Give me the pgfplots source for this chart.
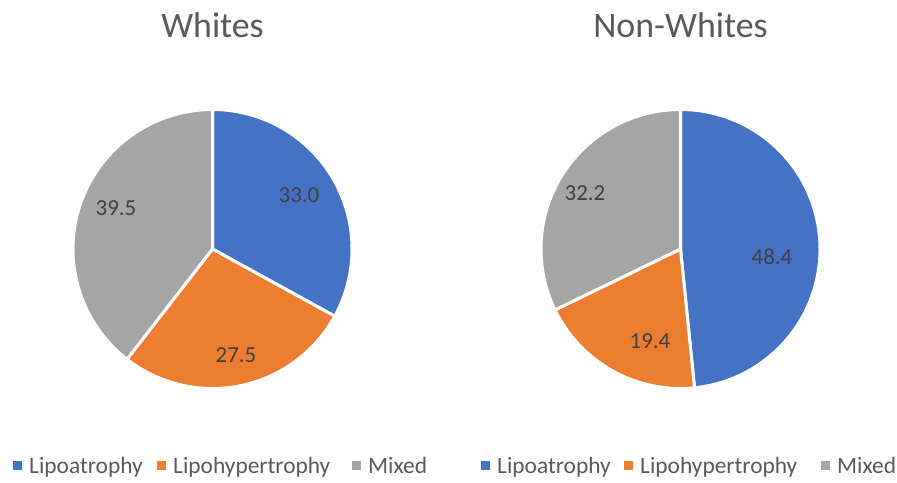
\documentclass[border=0pt]{standalone}
\usepackage{pgfplots}
\pgfplotsset{compat=1.18}
\usepackage{fontspec}
\setmainfont{Carlito}
\definecolor{cblue}{HTML}{4472C4}
\definecolor{corange}{HTML}{ED7D31}
\definecolor{cgray}{HTML}{A5A5A5}
\definecolor{ctitle}{HTML}{595959}
\definecolor{clabel}{HTML}{404040}
% data (percent)
\def\WA{33.0}\def\WB{27.5}\def\WC{39.5}
\def\NA{48.4}\def\NB{19.4}\def\NC{32.2}
\pgfmathsetmacro\WaS{90}
\pgfmathsetmacro\WaE{90-3.6*\WA}
\pgfmathsetmacro\WbE{\WaE-3.6*\WB}
\pgfmathsetmacro\WcE{\WbE-3.6*\WC}
\pgfmathsetmacro\NaE{90-3.6*\NA}
\pgfmathsetmacro\NbE{\NaE-3.6*\NB}
\pgfmathsetmacro\NcE{\NbE-3.6*\NC}
\newcommand{\legsq}[1]{\textcolor{#1}{\rule[3bp]{9bp}{9bp}}\hspace{7bp}}
\begin{document}
\begin{tikzpicture}
\begin{axis}[
  width=897bp, height=483bp, scale only axis,
  xmin=0, xmax=897, ymin=0, ymax=483,
  hide axis, clip=false,
]
\path (rel axis cs:0,0) rectangle (rel axis cs:1,1);
% Left pie: centre (212.5,234), R=139.5
\def\cx{212.5}\def\cy{234}\def\R{139.5}
\addplot[fill=cblue, draw=white, line width=3bp, line join=round, domain=\WaE:90, samples=90]
  ({\cx+\R*cos(x)},{\cy+\R*sin(x)}) -- (axis cs:\cx,\cy) -- cycle;
\addplot[fill=corange, draw=white, line width=3bp, line join=round, domain=\WbE:\WaE, samples=90]
  ({\cx+\R*cos(x)},{\cy+\R*sin(x)}) -- (axis cs:\cx,\cy) -- cycle;
\addplot[fill=cgray, draw=white, line width=3bp, line join=round, domain=\WcE:\WbE, samples=90]
  ({\cx+\R*cos(x)},{\cy+\R*sin(x)}) -- (axis cs:\cx,\cy) -- cycle;
% Right pie: centre (680.5,234)
\def\dx{680.5}
\addplot[fill=cblue, draw=white, line width=3bp, line join=round, domain=\NaE:90, samples=90]
  ({\dx+\R*cos(x)},{\cy+\R*sin(x)}) -- (axis cs:\dx,\cy) -- cycle;
\addplot[fill=corange, draw=white, line width=3bp, line join=round, domain=\NbE:\NaE, samples=90]
  ({\dx+\R*cos(x)},{\cy+\R*sin(x)}) -- (axis cs:\dx,\cy) -- cycle;
\addplot[fill=cgray, draw=white, line width=3bp, line join=round, domain=\NcE:\NbE, samples=90]
  ({\dx+\R*cos(x)},{\cy+\R*sin(x)}) -- (axis cs:\dx,\cy) -- cycle;
% data labels
\begin{scope}[every node/.style={text=clabel, font=\fontsize{23}{26}\selectfont, inner sep=0pt}]
\node at (axis cs:299,288) {\WA};
\node at (axis cs:236,128) {\WB};
\node at (axis cs:116,275) {\WC};
\node at (axis cs:772,226) {\NA};
\node at (axis cs:650,142) {\NB};
\node at (axis cs:585,290) {\NC};
\end{scope}
% titles
\node[anchor=base, text=ctitle, font=\fontsize{36}{40}\selectfont, inner sep=0pt] at (axis cs:212.5,445) {Whites};
\node[anchor=base, text=ctitle, font=\fontsize{36}{40}\selectfont, inner sep=0pt] at (axis cs:680.5,445) {Non-Whites};
% legends
\begin{scope}[every node/.style={anchor=base west, text=ctitle, font=\fontsize{23.5}{26}\selectfont, inner sep=0pt}]
\node at (axis cs:13,10) {\legsq{cblue}Lipoatrophy};
\node at (axis cs:157,10) {\legsq{corange}Lipohypertrophy};
\node at (axis cs:352,10) {\legsq{cgray}Mixed};
\node at (axis cs:481,10) {\legsq{cblue}Lipoatrophy};
\node at (axis cs:624,10) {\legsq{corange}Lipohypertrophy};
\node at (axis cs:821,10) {\legsq{cgray}Mixed};
\end{scope}
\end{axis}
\end{tikzpicture}
\end{document}
